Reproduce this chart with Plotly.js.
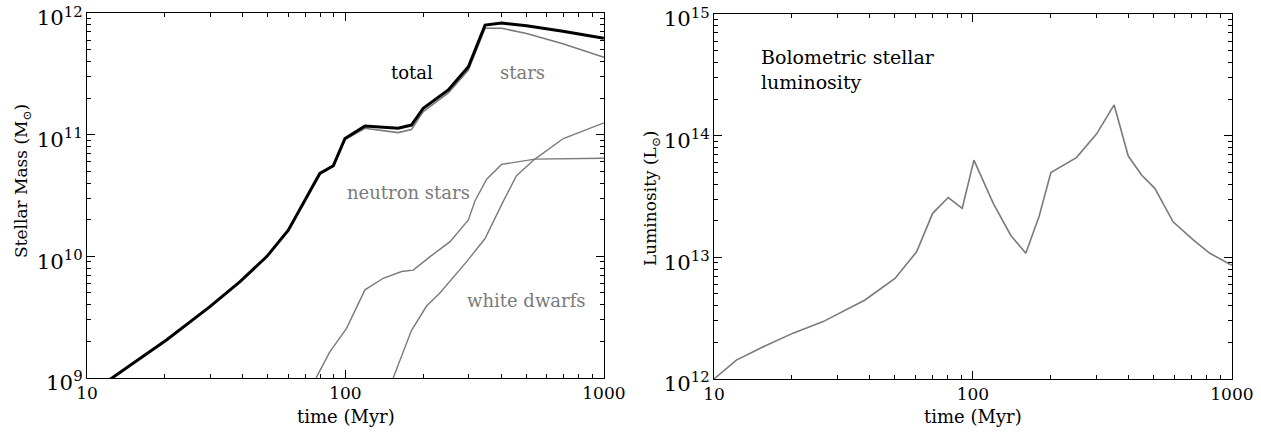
<!DOCTYPE html>
<html>
<head>
<meta charset="utf-8">
<script src="https://cdn.plot.ly/plotly-3.0.1.min.js"></script>
<style>
html,body{margin:0;padding:0;background:#fff;}
#chart{width:1261px;height:435px;}
</style>
</head>
<body>
<div id="chart"></div>
<script>
// ---- Data (time in Myr) ----
const tTotal = [10, 12.5, 20.3, 29.9, 39.1, 49.5, 60.1, 69.7, 79.6, 89.8, 99.6, 119, 160, 180, 200, 250, 299, 347, 402, 502, 694, 1000];
const massTotal = [7.5e8, 1.0e9, 2.05e9, 3.86e9, 6.2e9, 9.9e9, 1.64e10, 2.9e10, 4.8e10, 5.56e10, 9.3e10, 1.18e11, 1.13e11, 1.2e11, 1.65e11, 2.33e11, 3.62e11, 7.96e11, 8.28e11, 7.87e11, 7.1e11, 6.2e11];

const tStars = [10, 12.5, 20.3, 29.9, 39.1, 49.5, 60.1, 69.7, 79.6, 89.8, 99.6, 119, 160, 180, 200, 250, 299, 347, 402, 502, 694, 1000];
const massStars = [7.5e8, 1.0e9, 2.05e9, 3.86e9, 6.2e9, 9.9e9, 1.64e10, 2.9e10, 4.8e10, 5.5e10, 9.1e10, 1.13e11, 1.04e11, 1.1e11, 1.55e11, 2.21e11, 3.4e11, 7.5e11, 7.5e11, 6.8e11, 5.6e11, 4.33e11];

const tNeutron = [77, 87, 101, 119, 140, 165, 183, 212, 254, 299, 317, 352, 402, 541, 1000];
const massNeutron = [1.0e9, 1.64e9, 2.56e9, 5.3e9, 6.6e9, 7.5e9, 7.7e9, 9.9e9, 1.32e10, 1.99e10, 2.85e10, 4.3e10, 5.7e10, 6.3e10, 6.4e10];

const tWhite = [153, 180, 206, 232, 294, 347, 407, 459, 541, 697, 1000];
const massWhite = [1.0e9, 2.45e9, 3.9e9, 5.0e9, 9.0e9, 1.4e10, 2.8e10, 4.6e10, 6.3e10, 9.3e10, 1.25e11];

const tLum = [10, 12.2, 15.5, 20.2, 26.4, 33.5, 38.3, 50, 60.6, 69.9, 80.3, 90.9, 100.9, 119.8, 139.9, 160, 180, 200, 251, 300, 351, 398, 448, 504, 593, 709, 822, 1000];
const lum = [1.0e12, 1.43e12, 1.84e12, 2.38e12, 2.96e12, 3.81e12, 4.46e12, 6.7e12, 1.11e13, 2.3e13, 3.1e13, 2.53e13, 6.3e13, 2.78e13, 1.52e13, 1.08e13, 2.16e13, 4.97e13, 6.6e13, 1.03e14, 1.79e14, 6.8e13, 4.75e13, 3.69e13, 1.96e13, 1.39e13, 1.08e13, 8.6e12];

// ---- Styling ----
const FONT = 'DejaVu Serif, Liberation Serif, serif';
const GREY = '#7a7a7a';
const W = 1261, H = 435;

const traces = [
  {x: tStars, y: massStars, xaxis: 'x', yaxis: 'y', mode: 'lines', line: {color: GREY, width: 1.6}, name: 'stars'},
  {x: tNeutron, y: massNeutron, xaxis: 'x', yaxis: 'y', mode: 'lines', line: {color: GREY, width: 1.4}, name: 'neutron stars'},
  {x: tWhite, y: massWhite, xaxis: 'x', yaxis: 'y', mode: 'lines', line: {color: GREY, width: 1.4}, name: 'white dwarfs'},
  {x: tTotal, y: massTotal, xaxis: 'x', yaxis: 'y', mode: 'lines', line: {color: '#000', width: 3}, name: 'total'},
  {x: tLum, y: lum, xaxis: 'x2', yaxis: 'y2', mode: 'lines', line: {color: GREY, width: 1.6}, name: 'luminosity'}
];

function axisBase() {
  return {
    type: 'log',
    showline: true, linecolor: '#000', linewidth: 1,
    mirror: 'allticks',
    ticks: 'inside', ticklen: 8, tickwidth: 1, tickcolor: '#000',
    dtick: 1,
    showgrid: false, zeroline: false,
    ticklabeloverflow: 'allow',
    tickfont: {family: FONT, size: 17, color: '#000'},
    minor: {ticks: 'inside', ticklen: 4, tickwidth: 1, tickcolor: '#000', showgrid: false, dtick: 'D1'}
  };
}
const titleFont = {family: FONT, size: 18, color: '#000'};
const yTitleFont = {family: FONT, size: 17, color: '#000'};

const xa = Object.assign(axisBase(), {
  range: [1, 3.0005], domain: [87 / W, 604 / W], anchor: 'y',
  exponentformat: 'none', ticklabelstandoff: 0
});
const ya = Object.assign(axisBase(), {
  range: [8.9995, 12.0005], domain: [1 - 378 / H, 1 - 13 / H], anchor: 'x',
  exponentformat: 'power', ticklabelshift: 5
});
const xa2 = Object.assign(axisBase(), {
  range: [1, 3.0005], domain: [714 / W, 1232 / W], anchor: 'y2',
  exponentformat: 'none', ticklabelstandoff: 0
});
const ya2 = Object.assign(axisBase(), {
  range: [11.9995, 15.0005], domain: [1 - 379 / H, 1 - 14 / H], anchor: 'x2',
  exponentformat: 'power', ticklabelshift: 5
});

const annFont = (c) => ({family: FONT, size: 18, color: c});
const layout = {
  width: W, height: H,
  margin: {l: 0, r: 0, t: 0, b: 0},
  paper_bgcolor: '#fff', plot_bgcolor: '#fff',
  showlegend: false,
  xaxis: xa, yaxis: ya, xaxis2: xa2, yaxis2: ya2,
  annotations: [
    {xref: 'paper', yref: 'paper', x: 345.5 / W, y: 1 - 416 / H, text: 'time (Myr)', showarrow: false, font: titleFont, xanchor: 'center', yanchor: 'middle'},
    {xref: 'paper', yref: 'paper', x: 973 / W, y: 1 - 416 / H, text: 'time (Myr)', showarrow: false, font: titleFont, xanchor: 'center', yanchor: 'middle'},
    {xref: 'paper', yref: 'paper', x: 22 / W, y: 1 - 181 / H, text: 'Stellar Mass (M<sub>⊙</sub>)', textangle: -90, showarrow: false, font: yTitleFont, xanchor: 'center', yanchor: 'middle'},
    {xref: 'paper', yref: 'paper', x: 651 / W, y: 1 - 198 / H, text: 'Luminosity (L<sub>⊙</sub>)', textangle: -90, showarrow: false, font: yTitleFont, xanchor: 'center', yanchor: 'middle'},
    {xref: 'paper', yref: 'paper', x: 412 / W, y: 1 - 72 / H, text: 'total', showarrow: false, font: annFont('#000'), xanchor: 'center', yanchor: 'middle'},
    {xref: 'paper', yref: 'paper', x: 522 / W, y: 1 - 72 / H, text: 'stars', showarrow: false, font: annFont(GREY), xanchor: 'center', yanchor: 'middle'},
    {xref: 'paper', yref: 'paper', x: 408 / W, y: 1 - 193 / H, text: 'neutron stars', showarrow: false, font: annFont(GREY), xanchor: 'center', yanchor: 'middle'},
    {xref: 'paper', yref: 'paper', x: 526 / W, y: 1 - 300 / H, text: 'white dwarfs', showarrow: false, font: annFont(GREY), xanchor: 'center', yanchor: 'middle'},
    {xref: 'paper', yref: 'paper', x: 759 / W, y: 1 - 69 / H, text: 'Bolometric stellar<br>luminosity', showarrow: false, align: 'left', font: {family: FONT, size: 19, color: '#000'}, xanchor: 'left', yanchor: 'middle'}
  ]
};

Plotly.newPlot('chart', traces, layout, {staticPlot: true, displayModeBar: false});
</script>
</body>
</html>
